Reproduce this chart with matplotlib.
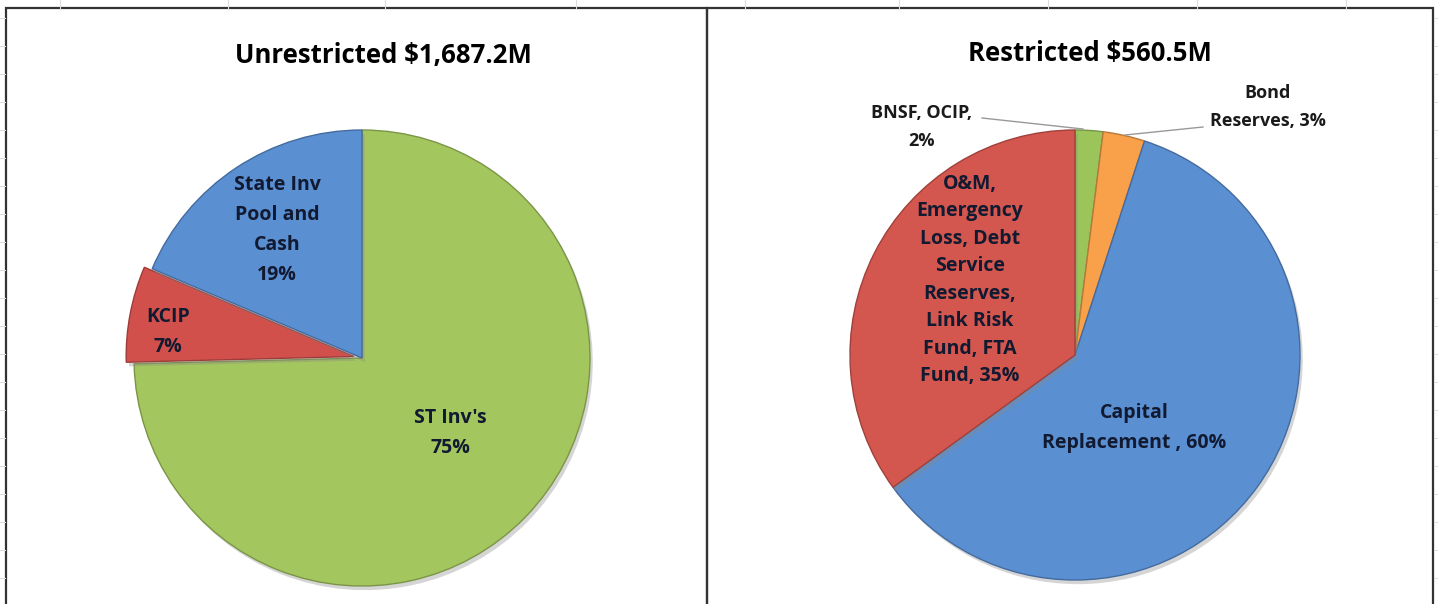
import matplotlib
matplotlib.use("Agg")
import matplotlib.pyplot as plt
import matplotlib.patheffects as pe
from matplotlib.patches import Rectangle
from matplotlib.lines import Line2D
import numpy as np

plt.rcParams['font.family'] = ['Open Sans', 'DejaVu Sans']

# ---- data ----
unres_title = "Unrestricted $1,687.2M"
unres_labels = ["ST Inv's\n75%", "KCIP\n7%", "State Inv\nPool and\nCash\n19%"]
unres_values = [74.6, 6.8, 18.6]
unres_colors = ["#A4C65E", "#D2504C", "#5A8FD2"]
unres_explode = [0, 0.035, 0]

res_title = "Restricted $560.5M"
res_labels = ["BNSF, OCIP,\n2%", "Bond\nReserves, 3%", "Capital\nReplacement , 60%",
              "O&M,\nEmergency\nLoss, Debt\nService\nReserves,\nLink Risk\nFund, FTA\nFund, 35%"]
res_values = [2, 3, 60, 35]
res_colors = ["#9BC55A", "#F8A04A", "#5A8FD2", "#D4574F"]

W, H = 1438, 604
fig = plt.figure(figsize=(W / 100, H / 100), dpi=100)
fig.patch.set_facecolor("white")

# faint spreadsheet gridlines behind the chart objects
for x in [60, 228, 385, 576, 745, 899, 1048, 1197, 1346]:
    fig.add_artist(Line2D([x / W, x / W], [1, 1 - 8 / H], color="#DDDDDD", lw=0.8))
for y in np.arange(18, 604, 28):
    fig.add_artist(Line2D([0, 5 / W], [1 - y / H, 1 - y / H], color="#DDDDDD", lw=0.8))
    fig.add_artist(Line2D([1434 / W, 1], [1 - y / H, 1 - y / H], color="#DDDDDD", lw=0.8))

# panel borders
for x0, x1 in [(6, 707), (707, 1433)]:
    fig.add_artist(Rectangle((x0 / W, -0.01), (x1 - x0) / W, 1 - 8 / H + 0.01,
                             transform=fig.transFigure, fill=False,
                             edgecolor="#333333", lw=1.6))


def pie_axes(cx, cy, r):
    return fig.add_axes([(cx - r) / W, 1 - (cy + r) / H, 2 * r / W, 2 * r / H])


def darker(c, f=0.75):
    rgb = np.array(matplotlib.colors.to_rgb(c))
    return tuple(rgb * f)


shadow = [pe.SimplePatchShadow(offset=(2, -3), shadow_rgbFace="#888888", alpha=0.35), pe.Normal()]

# ---- left pie ----
cx, cy, r = 362, 358, 228
ax = pie_axes(cx, cy, r)
wedges, _ = ax.pie(unres_values, colors=unres_colors, startangle=90, counterclock=False,
                   explode=unres_explode, radius=1,
                   wedgeprops=dict(linewidth=1.0))
for w, c in zip(wedges, unres_colors):
    w.set_edgecolor(darker(c))
    w.set_path_effects(shadow)
    w.set_clip_on(False)
ax.set_xlim(-1, 1)
ax.set_ylim(-1, 1)
ax.axis("off")
fig.text(383 / W, 1 - 56 / H, unres_title, ha="center", va="center",
         fontsize=18.5, fontweight="bold", color="black")

pos = [(450, 433), (168, 332), (277, 230)]
for lab, (px, py) in zip(unres_labels, pos):
    ax.text((px - cx) / r, (cy - py) / r, lab, ha="center", va="center",
            fontsize=14, fontweight="bold", color="#111a30", linespacing=1.65)

# ---- right pie ----
cx, cy, r = 1075, 355, 225
ax2 = pie_axes(cx, cy, r)
wedges2, _ = ax2.pie(res_values, colors=res_colors, startangle=90, counterclock=False,
                     radius=1, wedgeprops=dict(linewidth=1.0))
for w, c in zip(wedges2, res_colors):
    w.set_edgecolor(darker(c))
    w.set_path_effects(shadow)
    w.set_clip_on(False)
ax2.set_xlim(-1, 1)
ax2.set_ylim(-1, 1)
ax2.axis("off")
fig.text(1090 / W, 1 - 54 / H, res_title, ha="center", va="center",
         fontsize=18.5, fontweight="bold", color="black")

pos2 = [(922, 127), (1268, 107), (1134, 428), (970, 280)]
for i, (lab, (px, py)) in enumerate(zip(res_labels, pos2)):
    col = "#111a30" if i >= 2 else "#1a1a1a"
    ls = 1.5 if i == 3 else (1.75 if i < 2 else 1.65)
    ax2.text((px - cx) / r, (cy - py) / r, lab, ha="center", va="center",
             fontsize=13 if i < 2 else 14, fontweight="bold", color=col,
             linespacing=ls, clip_on=False)

# leader lines for the small slices
def to_data(px, py):
    return (px - cx) / r, (cy - py) / r

for (p0, p1) in [((982, 118), (1083, 129)), ((1203, 127), (1125, 135))]:
    a, b = to_data(*p0)
    c, d = to_data(*p1)
    ax2.plot([a, c], [b, d], color="#999999", lw=1.0, clip_on=False)

fig.savefig("out.png", dpi=100, facecolor="white")
